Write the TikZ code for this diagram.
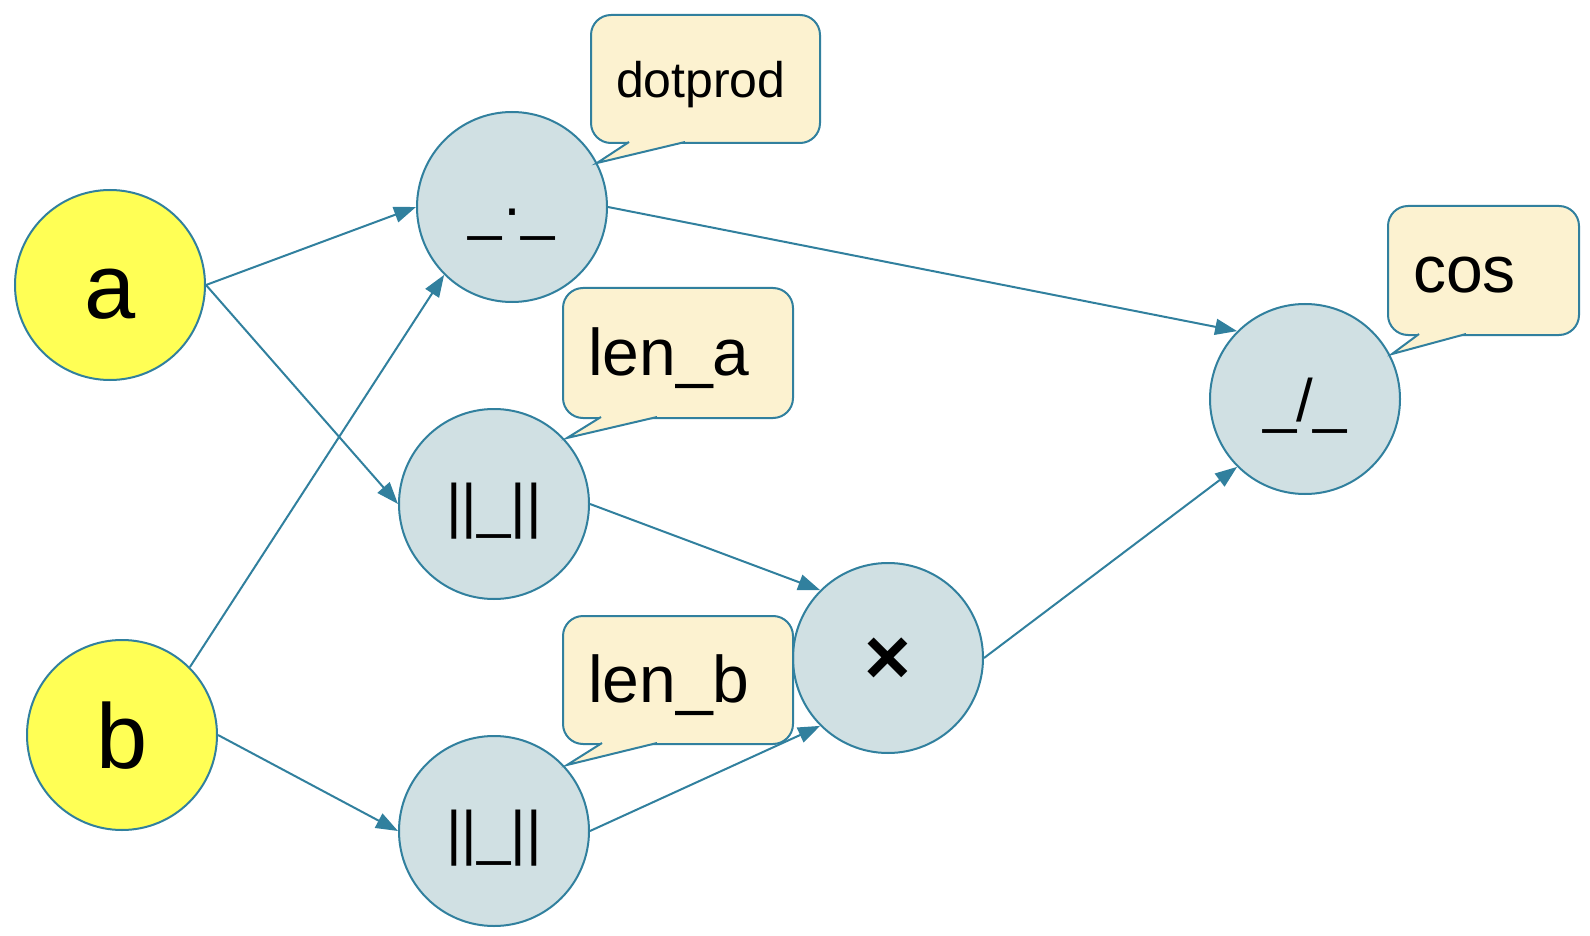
\documentclass[tikz,border=0pt]{standalone}
\usepackage{fontspec}
\setmainfont{Liberation Sans}
\usetikzlibrary{arrows.meta}
\definecolor{edgec}{RGB}{49,128,158}
\definecolor{opfill}{HTML}{D0E0E3}
\definecolor{varfill}{HTML}{FFFF55}
\definecolor{notefill}{HTML}{FCF2D0}
\begin{document}
\begin{tikzpicture}[x=0.5pt,y=-0.5pt,
  every node/.style={inner sep=0pt},
  var/.style={circle,draw=edgec,line width=1pt,fill=varfill,minimum size=95pt,
    font=\fontsize{46}{50}\selectfont,text height=33pt,text depth=0pt},
  op/.style={circle,draw=edgec,line width=1pt,fill=opfill,minimum size=95pt,
    font=\fontsize{30}{34}\selectfont,text height=22pt,text depth=0pt},
  conn/.style={draw=edgec,line width=1pt,-{Triangle[length=11pt,width=8pt]}},
  note/.style={draw=edgec,line width=1pt,fill=notefill,rounded corners=10pt,
    anchor=north west,inner xsep=12.5pt,inner ysep=0pt,align=left},
  ptrfill/.style={fill=notefill},
  ptredge/.style={draw=edgec,line width=1pt},
]
\useasboundingbox (0,0) rectangle (1590,936);

% variable nodes
\node[var] (a) at (110,285) {a};
\node[var] (b) at (122,735) {b};
% operation nodes
\node[op] (dot) at (512,207) {\_·\_};
\node[op] (lena) at (494,504) {||\_||};
\node[op] (lenb) at (494,831) {||\_||};
\node[op,font=\fontsize{40}{44}\selectfont\bfseries,text height=26.5pt] (times) at (888,658) {×};
\node[op] (div) at (1305,399) {\_/\_};

% connectors
\draw[conn] (a.east) -- (dot.west);
\draw[conn] (a.east) -- (lena.west);
\draw[conn] (b.north east) -- (dot.south west);
\draw[conn] (b.east) -- (lenb.west);
\draw[conn] (lena.east) -- (times.north west);
\draw[conn] (lenb.east) -- (times.south west);
\draw[conn] (dot.east) -- (div.north west);
\draw[conn] (times.east) -- (div.south west);

% callouts
\node[note,minimum width=114.5pt,text width=89.5pt,minimum height=64pt,
  font=\fontsize{25}{28}\selectfont,text height=19pt,text depth=0pt] (ndot) at (590,14) {dotprod};
\fill[ptrfill] (629,140) -- (629,142) -- (597,163) -- (685,142) -- (685,140) -- cycle;
\draw[ptredge] (629,142) -- (597,163) -- (685,142);

\node[note,minimum width=115pt,text width=90pt,minimum height=65pt,
  font=\fontsize{33}{36}\selectfont,text height=22.5pt,text depth=0pt] (nlena) at (562,287) {len\_a};
\fill[ptrfill] (601,415) -- (601,417) -- (567,438) -- (657,417) -- (657,415) -- cycle;
\draw[ptredge] (601,417) -- (567,438) -- (657,417);

\node[note,minimum width=115pt,text width=90pt,minimum height=64pt,
  font=\fontsize{33}{36}\selectfont,text height=22.5pt,text depth=0pt] (nlenb) at (562,615) {len\_b};
\fill[ptrfill] (602,741) -- (602,743) -- (567,765) -- (657,743) -- (657,741) -- cycle;
\draw[ptredge] (602,743) -- (567,765) -- (657,743);

\node[note,minimum width=95.5pt,text width=70.5pt,minimum height=64.5pt,
  font=\fontsize{33}{36}\selectfont,text height=22pt,text depth=0pt] (ncos) at (1387,205) {cos};
\fill[ptrfill] (1419,332) -- (1419,334) -- (1392,354) -- (1466,334) -- (1466,332) -- cycle;
\draw[ptredge] (1419,334) -- (1392,354) -- (1466,334);
\end{tikzpicture}
\end{document}
